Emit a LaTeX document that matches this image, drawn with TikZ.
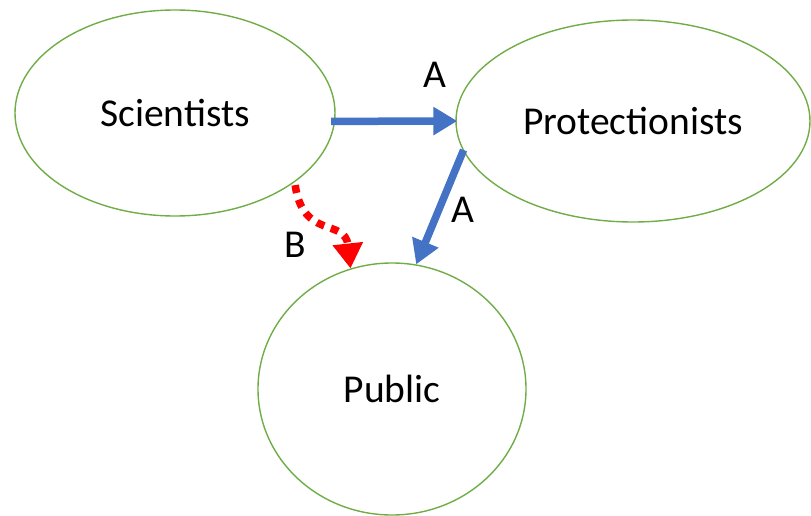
\documentclass[tikz,border=0pt]{standalone}
\usepackage{fontspec}
\setmainfont{Carlito}
\usetikzlibrary{shapes.geometric,arrows.meta}
\definecolor{egreen}{RGB}{112,173,71}
\definecolor{ablue}{RGB}{68,114,196}
\definecolor{bred}{RGB}{255,0,0}
\tikzset{
  actor/.style={ellipse,draw=egreen,line width=1.4pt,inner sep=0pt,font=\fontsize{39.5}{42}\selectfont},
  flowA/.style={draw=ablue,line width=7.5pt,-{Triangle[length=24pt,width=27pt]}},
  flowB/.style={draw=bred,line width=7.5pt,dash pattern=on 8pt off 7pt,-{Triangle[length=25pt,width=29pt]}},
  lbl/.style={font=\fontsize{39.5}{42}\selectfont,inner sep=0pt}
}
\begin{document}
\begin{tikzpicture}[x=1pt,y=-1pt]
\useasboundingbox (0,0) rectangle (811,516);
\node[actor,minimum width=320pt,minimum height=206pt] (sci) at (175,113) {Scientists};
\node[actor,minimum width=354pt,minimum height=202pt] (prot) at (633,121) {Protectionists};
\node[actor,minimum width=268pt,minimum height=252pt] (pub) at (392,389) {Public};
\draw[flowA,shorten <=-4pt,shorten >=-2pt] (sci.-3) -- (prot.west);
\draw[flowA,shorten <=-1pt] (prot.190) -- (pub.79);
\draw[flowB,shorten <=3pt] (sci.-30) .. controls (303,240) and (345,218) .. (pub.109);
\node[lbl] (la1) at (435,75) {A};
\node[lbl] (la2) at (463,210) {A};
\node[lbl] (lb) at (295,245) {B};
\end{tikzpicture}
\end{document}
